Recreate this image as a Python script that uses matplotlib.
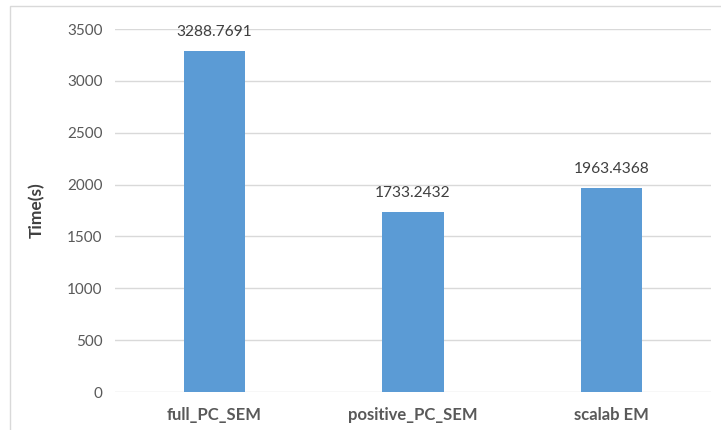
import matplotlib
matplotlib.use("Agg")
import matplotlib.pyplot as plt
from matplotlib.patches import Rectangle

categories = ["full_PC_SEM", "positive_PC_SEM", "scalab EM"]
times = [3288.7691, 1733.2432, 1963.4368]
value_labels = ["3288.7691", "1733.2432", "1963.4368"]
yticks = [0, 500, 1000, 1500, 2000, 2500, 3000, 3500]

plt.rcParams['font.family'] = ['Lato', 'DejaVu Sans']

fig = plt.figure(figsize=(7.21, 4.30), dpi=100)
ax = fig.add_axes([115 / 721, 1 - 392 / 430, (711 - 115) / 721, (392 - 29) / 430])

x = list(range(len(categories)))
ax.bar(x, times, width=0.31, color="#5b9bd5", zorder=3)
for xi, v, lab in zip(x, times, value_labels):
    ax.text(xi, v + 115, lab, ha="center", va="bottom", fontsize=11.2, color="#404040", zorder=4)

ax.set_xlim(-0.5, 2.5)
ax.set_ylim(0, 3500)
ax.set_yticks(yticks)
ax.set_yticklabels([str(t) for t in yticks], fontsize=11, color="#595959")
ax.set_xticks(x)
ax.set_xticklabels(categories, fontsize=12, color="#595959", fontweight="bold")
ax.yaxis.grid(True, color="#d9d9d9", linewidth=1.0, zorder=0)
ax.set_axisbelow(True)
for s in ax.spines.values():
    s.set_visible(False)
ax.tick_params(axis="y", length=0, pad=9)
ax.tick_params(axis="x", length=0, pad=11)
ax.set_ylabel("Time(s)", fontsize=12.5, fontweight="bold", color="#404040", labelpad=16)

# light chart-area frame
fig.patches.append(Rectangle((10 / 721, -0.01), 1.0, 1 - 6 / 430 + 0.01,
                             transform=fig.transFigure, fill=False,
                             edgecolor="#d9d9d9", linewidth=1.0))

fig.savefig("out.png", dpi=100)
